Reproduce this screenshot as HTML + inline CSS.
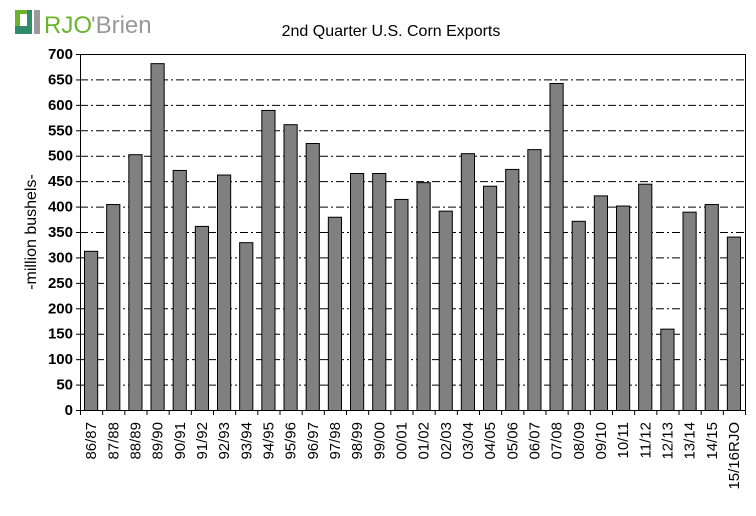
<!DOCTYPE html>
<html><head><meta charset="utf-8"><style>
body{margin:0;background:#fff;}
svg{display:block;font-family:"Liberation Sans",Arial,sans-serif;}
</style></head><body>
<svg id="chart" width="756" height="516" viewBox="0 0 756 516" xmlns="http://www.w3.org/2000/svg">
<g>
<rect x="15" y="10" width="17" height="24" fill="#2e8b6e"/>
<rect x="15" y="10" width="12" height="16" fill="#6ab42d"/>
<rect x="20" y="14" width="7" height="12" fill="#fff"/>
<rect x="34" y="10" width="6" height="24" fill="#9a9a9a"/>
<text x="44" y="33" font-size="24" fill="#6ab42d">RJO</text>
<text x="91" y="33" font-size="24" fill="#999">'Brien</text>
</g>
<text x="391" y="36" font-size="16" text-anchor="middle" fill="#000">2nd Quarter U.S. Corn Exports</text>
<text transform="translate(36,232) rotate(-90)" font-size="16" text-anchor="middle" fill="#000">-million bushels-</text>
<g id="grid"></g><g id="bars"></g><g id="axes"></g>
</svg>
<script>
const categories=["86/87","87/88","88/89","89/90","90/91","91/92","92/93","93/94","94/95","95/96","96/97","97/98","98/99","99/00","00/01","01/02","02/03","03/04","04/05","05/06","06/07","07/08","08/09","09/10","10/11","11/12","12/13","13/14","14/15","15/16RJO"];
const values=[313,405,503,682,472,362,463,330,590,562,525,380,466,466,415,448,392,505,441,474,513,643,372,422,402,445,160,390,405,341];
const yTicks=[0,50,100,150,200,250,300,350,400,450,500,550,600,650,700];
const NS="http://www.w3.org/2000/svg";
const PL=80,PR=745,PT=54,PB=410,YMAX=700;
const nCat=categories.length,bw=(PR-PL)/nCat;
const yScale=v=>PB-(v/YMAX)*(PB-PT);
const xScale=i=>PL+i*bw;
function mk(tag,at,parent){const e=document.createElementNS(NS,tag);for(const k in at)e.setAttribute(k,at[k]);parent.appendChild(e);return e;}
const gridG=document.getElementById('grid'),barsG=document.getElementById('bars'),axesG=document.getElementById('axes');
yTicks.forEach(t=>{
 if(t>0&&t<YMAX){const g=mk('line',{x1:PL,x2:PR,y1:yScale(t)+0.5,y2:yScale(t)+0.5,stroke:'#000','stroke-width':1,'stroke-dasharray':'8,3,2,3'},gridG);
 
 }
 const tk=mk('line',{x1:PL-4,x2:PL,y1:yScale(t)+0.5,y2:yScale(t)+0.5,stroke:'#000'},axesG);
 
 
 const lb=mk('text',{x:PL-7,y:yScale(t)+5,'font-size':15,'font-weight':'bold','text-anchor':'end',fill:'#000'},axesG);lb.textContent=t;
 
 
});
values.forEach((v,i)=>{
 const r=mk('rect',{x:xScale(i)+4.5,y:yScale(v)+0.5,width:bw-9,height:PB-yScale(v),fill:'#808080',stroke:'#000','stroke-width':1},barsG);
 
 
});
const topBorder=mk('line',{x1:PL,x2:PR,y1:PT+0.5,y2:PT+0.5,stroke:'#000'},axesG);


const rightBorder=mk('line',{x1:PR+0.5,x2:PR+0.5,y1:PT,y2:PB,stroke:'#000'},axesG);


const yAxisLine=mk('line',{x1:PL+0.5,x2:PL+0.5,y1:PT,y2:PB,stroke:'#000'},axesG);


const xAxisLine=mk('line',{x1:PL,x2:PR+1,y1:PB+0.5,y2:PB+0.5,stroke:'#000'},axesG);


for(let i=0;i<=nCat;i++){const t=mk('line',{x1:xScale(i)+0.5,x2:xScale(i)+0.5,y1:PB,y2:PB+5,stroke:'#000'},axesG);
 
 }
categories.forEach((c,i)=>{
 const cx=xScale(i)+bw/2+5;
 const t=mk('text',{transform:'translate('+cx+','+(PB+12)+') rotate(-90)','font-size':15,'text-anchor':'end',fill:'#000'},axesG);
 t.textContent=c;
 
 
});
</script>
</body></html>
